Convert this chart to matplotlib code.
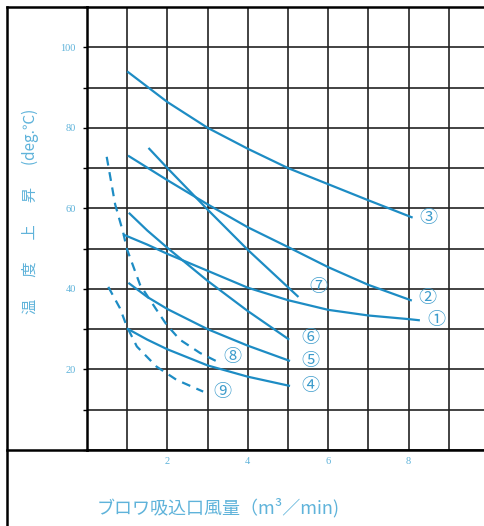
import matplotlib
matplotlib.use("Agg")
import matplotlib.pyplot as plt
from matplotlib.lines import Line2D

# blower intake air volume (m3/min) vs temperature rise (deg C)
x1 = [0.9, 1.5, 2, 3, 4, 5, 6, 7, 8, 8.28]
y1 = [53.5, 51, 48.7, 44.5, 40.3, 37.2, 34.8, 33.4, 32.5, 32.2]
x2 = [1.02, 2, 3, 4, 5, 6, 7, 8.08]
y2 = [73.1, 67, 61, 55.3, 50.4, 45.4, 41, 37.1]
x3 = [1, 2, 3, 4, 5, 6, 7, 8.1]
y3 = [94, 86.4, 80, 74.8, 70, 66, 62, 57.7]
x4 = [0.99, 1.5, 2, 3, 4, 5.05]
y4 = [30.2, 27.4, 25, 21, 18.2, 15.9]
x5 = [1.03, 1.5, 2, 3, 4, 5.05]
y5 = [41.5, 38, 35, 30, 25.9, 22.1]
x6 = [1.04, 1.5, 2, 3, 4, 5.03]
y6 = [58.9, 54.5, 50.2, 42, 34.5, 27.4]
x7 = [1.53, 2, 3, 4, 5.26]
y7 = [75, 70, 59.7, 49.7, 38]
x8 = [0.49, 0.7, 0.9, 0.99, 1.32, 1.73, 1.98, 2.31, 2.81, 3.23]
y8 = [72.8, 61, 54, 50, 41, 34.8, 31.1, 27.4, 24.1, 22]
x9 = [0.53, 0.82, 0.99, 1.24, 1.73, 2.23, 2.89]
y9 = [40.5, 35.2, 30.7, 25.7, 20.7, 17.4, 14.5]

curve_names = ["①", "②", "③", "④", "⑤", "⑥", "⑦", "⑧", "⑨"]
xs = [x1, x2, x3, x4, x5, x6, x7, x8, x9]
ys = [y1, y2, y3, y4, y5, y6, y7, y8, y9]
dashed = [False, False, False, False, False, False, False, True, True]

x_ticks = [0, 1, 2, 3, 4, 5, 6, 7, 8, 9]
x_ticklabels = ["", "", "2", "", "4", "", "6", "", "8", ""]
y_ticks = [0, 10, 20, 30, 40, 50, 60, 70, 80, 90, 100, 110]
y_ticklabels = ["", "", "20", "", "40", "", "60", "", "80", "", "100", ""]

LINE = "#1d8cc4"
NUM = "#3d9ccc"
TICK = "#5fb3da"
JP = ["Noto Sans CJK JP", "DejaVu Sans"]

# label centre offsets (points) from the end of each curve
offsets = [(12, 0), (11.5, 2), (11.5, 0), (14.5, 0), (14.5, 0), (15, 1),
           (14, 7), (11, 3), (14, 0)]

W, H = 485, 526
fig = plt.figure(figsize=(W / 100, H / 100), dpi=100)
ax = fig.add_axes([87 / W, 76 / H, (W - 87) / W, 443 / H])

for x, y, name, d, off in zip(xs, ys, curve_names, dashed, offsets):
    ls = (0, (4, 3)) if d else "-"
    ax.plot(x, y, color=LINE, lw=1.6, ls=ls, solid_capstyle="butt", zorder=3)
    ax.annotate(name, (x[-1], y[-1]), xytext=off, textcoords="offset points",
                ha="center", va="center", fontsize=13, color=NUM,
                family=JP, zorder=4)

ax.set_xlim(0, 9.9)
ax.set_ylim(0, 110)
ax.set_xticks(x_ticks)
ax.set_xticklabels(x_ticklabels)
ax.set_yticks(y_ticks)
ax.set_yticklabels(y_ticklabels)
ax.tick_params(axis="x", length=0, pad=5, labelsize=7.5, labelcolor=TICK)
ax.tick_params(axis="y", length=3, width=1, direction="out", pad=5,
               labelsize=7.5, labelcolor=TICK)
for lab in ax.get_xticklabels() + ax.get_yticklabels():
    lab.set_family("Liberation Serif")
ax.grid(True, color="#222222", lw=1.2)
ax.set_axisbelow(True)
for s in ["left", "bottom", "top"]:
    ax.spines[s].set_linewidth(1.8)
ax.spines["right"].set_visible(False)

# outer frame
fx = 7 / W
fig.add_artist(Line2D([fx, fx], [0, 519 / H], color="k", lw=1.8))
fig.add_artist(Line2D([fx, 87 / W], [519 / H, 519 / H], color="k", lw=1.8))
fig.add_artist(Line2D([fx, 87 / W], [76 / H, 76 / H], color="k", lw=1.8))

fig.text(30 / W, (H - 211) / H, "温　  度　  上　  昇　  (deg.℃)", rotation=90,
         ha="center", va="center", fontsize=11, color=TICK, family=JP)
fig.text(97 / W, (H - 508) / H, "ブロワ吸込口風量（m³／min)", ha="left",
         va="center", fontsize=13, color=TICK, family=JP)

fig.savefig("out.png", dpi=100)
